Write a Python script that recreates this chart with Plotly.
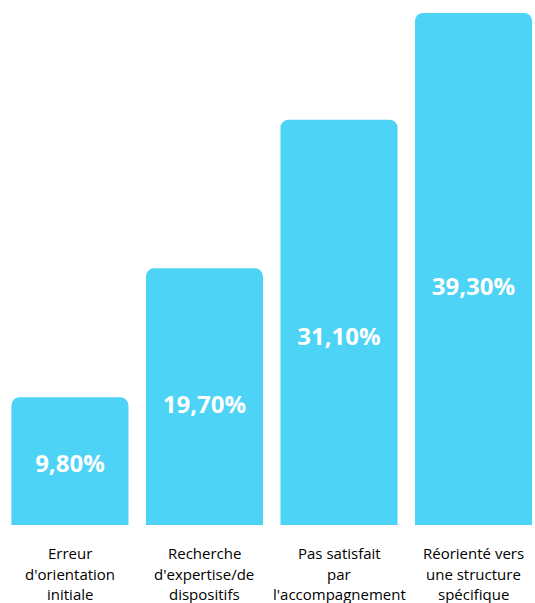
import plotly.graph_objects as go

# Reasons for leaving, share of respondents (%)
categories = [
    ["Erreur", "d'orientation", "initiale"],
    ["Recherche", "d'expertise/de", "dispositifs"],
    ["Pas satisfait", "par", "l'accompagnement"],
    ["Réorienté vers", "une structure", "spécifique"],
]
values = [9.8, 19.7, 31.1, 39.3]
value_labels = ["9,80%", "19,70%", "31,10%", "39,30%"]

BAR_COLOR = "#4CD3F6"
positions = list(range(len(values)))

fig = go.Figure()
fig.add_trace(go.Bar(
    x=positions,
    y=values,
    width=0.87,
    marker=dict(color=BAR_COLOR, line=dict(width=0)),
    hoverinfo="skip",
    showlegend=False,
))

# value labels sit a little below the middle of each bar
fig.add_trace(go.Scatter(
    x=positions,
    y=[v * 0.46 for v in values],
    mode="text",
    text=value_labels,
    textposition="middle center",
    textfont=dict(family="Open Sans", size=24, color="white", weight="bold"),
    hoverinfo="skip",
    showlegend=False,
))

# multi-line category labels under the bars
line_offsets = [-28, -49, -69]
for i, lines in enumerate(categories):
    for line, dy in zip(lines, line_offsets):
        fig.add_annotation(
            x=i, xref="x", y=0, yref="paper",
            text=line, showarrow=False,
            xanchor="center", yanchor="middle", yshift=dy,
            font=dict(family="Open Sans", size=15, color="#000000"),
        )

fig.update_layout(
    width=535, height=603,
    margin=dict(l=0, r=0, t=0, b=78),
    paper_bgcolor="white", plot_bgcolor="white",
    barcornerradius=8,
    xaxis=dict(range=[-0.52, 3.457], visible=False, fixedrange=True),
    yaxis=dict(range=[0, 40.29], visible=False, fixedrange=True),
)

fig.write_html("out.html")
